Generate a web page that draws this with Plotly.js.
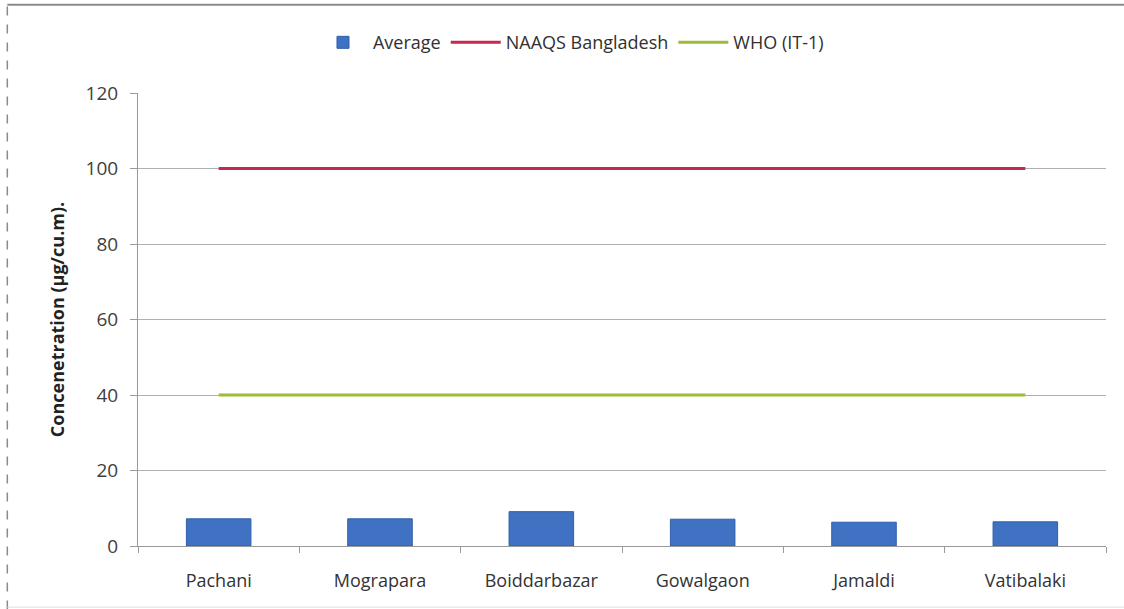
<!DOCTYPE html>
<html>
<head>
<meta charset="utf-8">
<script src="https://cdn.plot.ly/plotly-3.0.1.min.js"></script>
<style>html,body{margin:0;padding:0;background:#fff;}#chart{width:1124px;height:609px;}</style>
</head>
<body>
<div id="chart"></div>
<script>
const categories = ["Pachani", "Mograpara", "Boiddarbazar", "Gowalgaon", "Jamaldi", "Vatibalaki"];
const averageValues = [7.2, 7.2, 9.1, 7.1, 6.3, 6.4];
const naaqsValues = [100, 100, 100, 100, 100, 100];
const whoValues = [40, 40, 40, 40, 40, 40];
const yTickValues = [0, 20, 40, 60, 80, 100, 120];

const fontFam = "'Open Sans', 'Noto Sans', sans-serif";

const traces = [
  {
    type: "bar", name: "Average", x: categories, y: averageValues,
    marker: {color: "#3f72c2", line: {color: "#2f5fa8", width: 1}}
  },
  {
    type: "scatter", mode: "lines", name: "NAAQS Bangladesh", x: categories, y: naaqsValues,
    line: {color: "#c7284f", width: 3}
  },
  {
    type: "scatter", mode: "lines", name: "WHO (IT-1)", x: categories, y: whoValues,
    line: {color: "#9bbb3a", width: 3}
  }
];

const layout = {
  width: 1124, height: 609,
  margin: {l: 138, r: 18, t: 93, b: 63},
  paper_bgcolor: "#ffffff", plot_bgcolor: "#ffffff",
  font: {family: fontFam, color: "#404040", size: 17},
  bargap: 0.6,
  showlegend: true,
  legend: {
    orientation: "h", xref: "container", yref: "container",
    x: 0.508, xanchor: "center", y: 0.93, yanchor: "middle",
    font: {size: 18, color: "#303030"}, traceorder: "normal",
    itemwidth: 50
  },
  xaxis: {
    type: "category", showgrid: false, zeroline: false,
    showline: true, linecolor: "#9a9a9a", linewidth: 1,
    ticks: "outside", tickson: "boundaries", ticklen: 6, tickcolor: "#9a9a9a",
    tickfont: {size: 18, color: "#333333"}, range: [-0.5, 5.5],
    ticklabelstandoff: 18
  },
  yaxis: {
    range: [0, 120], tickvals: yTickValues, ticktext: yTickValues.map(String),
    showgrid: true, gridcolor: "#b0b0b0", gridwidth: 1, zeroline: false,
    showline: true, linecolor: "#9a9a9a", linewidth: 1,
    ticks: "outside", ticklen: 7, tickcolor: "#9a9a9a",
    tickfont: {size: 19, color: "#404040"},
    ticklabelstandoff: 8,
    title: {text: "<b>Concenetration (µg/cu.m).</b>", font: {size: 18, color: "#222222"}, standoff: 16}
  },
  shapes: [
    {type: "line", xref: "paper", yref: "paper", x0: -0.135, x1: 1.02, y0: 1.195, y1: 1.195,
     line: {color: "#8a8a8a", width: 2}},
    {type: "line", xref: "paper", yref: "paper", x0: -0.135, x1: -0.135, y0: -0.14, y1: 1.195,
     line: {color: "#8a8a8a", width: 1.5, dash: "dash"}},
    {type: "line", xref: "paper", yref: "paper", x0: -0.135, x1: 1.02, y0: -0.135, y1: -0.135,
     line: {color: "#dddddd", width: 1}}
  ]
};

Plotly.newPlot("chart", traces, layout, {displayModeBar: false, staticPlot: true});
</script>
</body>
</html>
